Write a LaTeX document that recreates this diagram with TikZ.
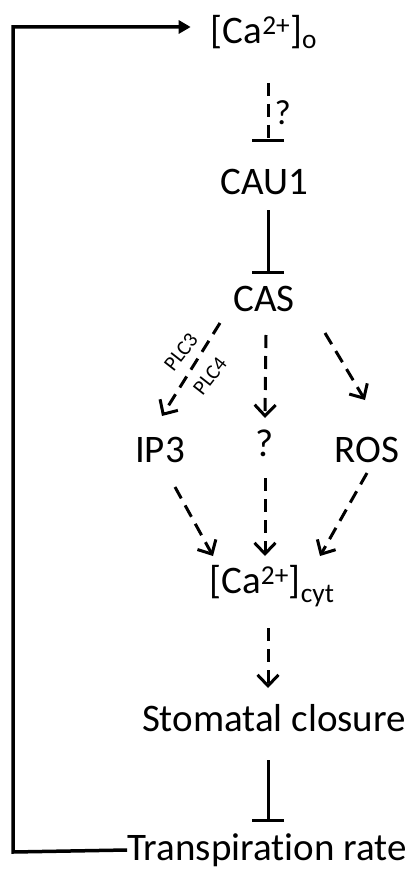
\documentclass[tikz,border=0pt]{standalone}
\usepackage{fontspec}
\setmainfont[Ligatures=NoCommon]{Carlito}
\usetikzlibrary{arrows.meta,calc}
\begin{document}
\begin{tikzpicture}[x=1pt,y=-1pt,
  lbl/.style={inner sep=0pt,font=\fontsize{39}{42}\selectfont},
  small/.style={inner sep=0pt,font=\fontsize{21}{23}\selectfont},
  conn/.style={line width=3pt},
  dashconn/.style={line width=3pt,dash pattern=on 13pt off 8pt},
  dasharrow/.style={dashconn,-{Straight Barb[length=11pt,width=21pt,line width=3pt]}},
  inhib/.style={-{Bar[width=32pt,line width=3pt]}}]
\useasboundingbox (0,0) rectangle (413,869);
\node[lbl] (cao) at (264,32) {[Ca\textsuperscript{2+}]\textsubscript{o}};
\node[lbl] (cau) at (264,182) {CAU1};
\node[lbl] (cas) at (264,299) {CAS};
\node[lbl] (ip3) at (160,450) {IP3};
\node[lbl] (q) at (265,443) {?};
\node[lbl] (ros) at (367,450) {ROS};
\node[lbl] (cacyt) at (272,586) {[Ca\textsuperscript{2+}]\textsubscript{cyt}};
\node[lbl] (stom) at (274,718) {Stomatal closure};
\node[lbl] (trans) at (267,850) {Transpiration rate};
\coordinate (fbl) at (13,852);
\coordinate (fbt) at (13,27);
% inhibitions
\draw[dashconn,inhib] ($(cao.center)+(4,51)$) -- ($(cau.center)+(4,-40)$) node[lbl,font=\fontsize{35}{37}\selectfont,midway,right=5pt] (qi) {?};
\draw[conn,inhib] ($(cau.center)+(4,28)$) -- ($(cas.center)+(4,-25)$);
\draw[conn,inhib] ($(stom.center)+(-6,42)$) -- ($(trans.center)+(1,-28)$);
% dashed activations
\draw[dasharrow] ($(cas.center)+(-44,24)$) -- ($(ip3.center)+(2,-34)$);
\node[small,rotate=52] (plc3) at (181,352) {PLC3};
\node[small,rotate=52] (plc4) at (210,376) {PLC4};
\draw[dasharrow] ($(cas.center)+(2,36)$) -- ($(q.center)+(0,-25)$);
\draw[dasharrow] ($(cas.center)+(61,34)$) -- ($(ros.center)+(-2,-50)$);
\draw[dasharrow] ($(ip3.center)+(15,37)$) -- ($(cacyt.center)+(-59,-30)$);
\draw[dasharrow] ($(q.center)+(0,35)$) -- ($(cacyt.center)+(-7,-30)$);
\draw[dasharrow] ($(ros.center)+(0,23)$) -- ($(cacyt.center)+(48,-30)$);
\draw[dasharrow] ($(cacyt.center)+(-4,42)$) -- ($(stom.center)+(-6,-30)$);
% feedback
\draw[line width=3.5pt,-{Triangle[length=12pt,width=13pt]}] (trans.west) -- (fbl) -- (fbt) -- ($(cao.west)+(-20,-5)$);
\end{tikzpicture}
\end{document}
